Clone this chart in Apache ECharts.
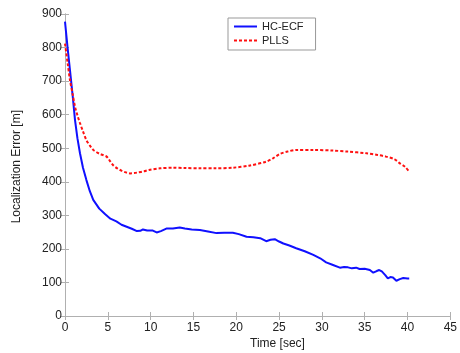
<!DOCTYPE html>
<html><head><meta charset="utf-8">
<script src="https://cdn.jsdelivr.net/npm/echarts@6/dist/echarts.min.js"></script>
<style>html,body{margin:0;padding:0;background:#fff}#c{width:460px;height:353px}</style>
</head><body><div id="c"></div>
<script>
const hcTime = [0,0.3,0.58,0.9,1.17,1.45,1.75,2.1,2.5,2.9,3.3,4,4.7,5.3,6,6.6,7.2,7.8,8.4,8.8,9.1,9.6,10.2,10.7,11.2,11.9,12.6,13.4,14,14.8,15.75,16.7,17.7,18.6,19.6,20.3,21.2,22,22.8,23.5,24,24.5,25,25.5,26.2,27,28,29,29.8,30.5,31.3,32.1,32.6,33.05,33.5,34,34.4,35,35.6,36,36.4,36.7,37,37.4,37.7,38,38.3,38.7,39.1,39.5,39.7,40,40.2];
const hcErr = [877,800,733,655,584,530,485,442,405,372,346,320,303,290,282,272,266,260,253,254,258,255,255,249,253,261,261,264,261,258,256,252,247,248,248,244,236,235,232,223,227,229,222,216,210,202,193,182,172,160,152,144,146,145,142,144,140,141,137,129,134,137,133,122,112,116,115,105,110,113,117,112,112];
const pllsTime = [0,0.3,0.58,0.9,1.17,1.45,1.75,2.1,2.5,2.9,3.3,3.7,4.08,4.5,4.86,5.2,5.6,6.1,6.6,7.1,7.6,8.1,8.55,9.2,9.8,11.1,12.6,14,15.75,17.5,19.6,21.5,23.5,24.3,25.1,26,27,29,31.3,33,35.2,36.5,37.5,38.5,39.1,39.7,40.2];
const pllsErr = [812,755,703,660,624,598,575,550,524,508,495,488,483,479,475,464,450,440,433,428,425,426,428,431,435,440,442,441,440,440,442,448,460,470,483,490,495,495,493,490,485,480,475,467,455,445,430];
const xTicks = [0,5,10,15,20,25,30,35,40,45];
const yTicks = [0,100,200,300,400,500,600,700,800,900];

const axisColor = '#b0b0b0';
const font = 'Liberation Sans, Arial, sans-serif';
const chart = echarts.init(document.getElementById('c'));
const xBase = {type:'value', min:xTicks[0], max:xTicks[xTicks.length-1], interval:5,
  axisLine:{show:true, lineStyle:{color:axisColor}}, axisTick:{show:true, inside:true, length:4, lineStyle:{color:axisColor}},
  splitLine:{show:false}};
const yBase = {type:'value', min:yTicks[0], max:yTicks[yTicks.length-1], interval:100,
  axisLine:{show:true, lineStyle:{color:axisColor}}, axisTick:{show:true, inside:true, length:4, lineStyle:{color:axisColor}},
  splitLine:{show:false}};
chart.setOption({
  animation:false,
  grid:{left:65, right:9, top:14, bottom:37},
  xAxis:[
    Object.assign({}, xBase, {position:'bottom', axisLabel:{color:'#222', fontSize:12, fontFamily:font, margin:6}}),
    Object.assign({}, xBase, {position:'top', axisLabel:{show:false}})
  ],
  yAxis:[
    Object.assign({}, yBase, {position:'left', axisLabel:{color:'#222', fontSize:12, fontFamily:font, margin:3}}),
    Object.assign({}, yBase, {position:'right', axisLabel:{show:false}})
  ],
  legend:{left:228, top:18, orient:'vertical', backgroundColor:'#fff', borderColor:'#999', borderWidth:1,
    padding:[3,12,4,5], itemGap:3, itemWidth:23, itemHeight:10, textStyle:{fontSize:11, color:'#222', fontFamily:font},
    itemStyle:{opacity:0},
    data:['HC-ECF','PLLS']},
  series:[
    {name:'HC-ECF', type:'line', symbol:'none', data:hcTime.map((t,i)=>[t,hcErr[i]]),
      lineStyle:{color:'#1010ff', width:2}, itemStyle:{color:'#1010ff'}},
    {name:'PLLS', type:'line', symbol:'none', smooth:0.3, data:pllsTime.map((t,i)=>[t,pllsErr[i]]),
      lineStyle:{color:'#ff1010', width:2, type:[3,2]}, itemStyle:{color:'#ff1010'}}
  ],
  graphic:[
    {type:'text', left:11, top:110, rotation:Math.PI/2, style:{text:'Localization Error [m]', font:'12px '+font, fill:'#222'}},
    {type:'text', left:250, top:338, style:{text:'Time [sec]', font:'12px '+font, fill:'#222'}}
  ]
});
</script></body></html>
